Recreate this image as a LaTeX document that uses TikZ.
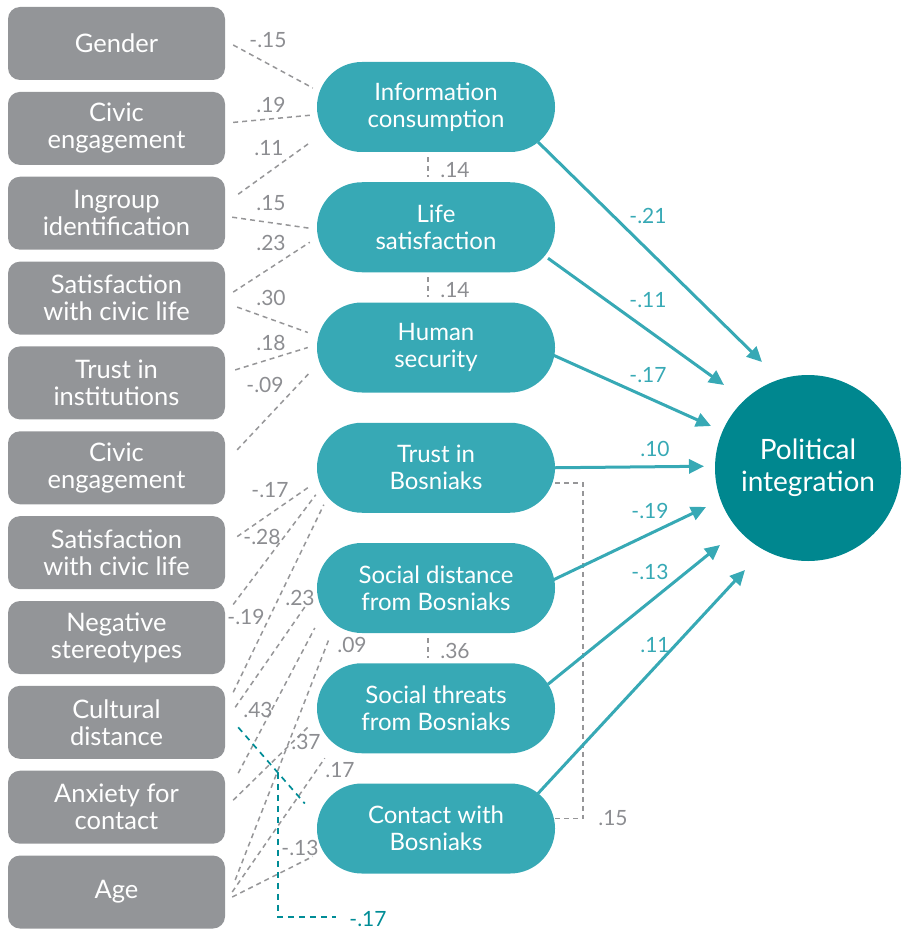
\documentclass[tikz,border=0pt]{standalone}
\usepackage{fontspec}
\setmainfont{Lato}
\usetikzlibrary{calc,arrows.meta}
\definecolor{boxgray}{RGB}{147,149,152}
\definecolor{tealbox}{RGB}{55,169,181}
\definecolor{tealdark}{RGB}{0,135,143}
\definecolor{dashgray}{RGB}{150,150,152}
\definecolor{numgray}{RGB}{140,141,145}
\definecolor{tealline}{RGB}{0,140,150}
\begin{document}
\begin{tikzpicture}[x=1pt,y=-1pt,
  gbox/.style={rectangle, rounded corners=12pt, fill=boxgray, text=white,
    minimum width=217pt, minimum height=73pt, align=center, inner sep=0pt,
    font=\fontsize{25.5}{27}\selectfont},
  tbox/.style={rectangle, rounded corners=44.9pt, fill=tealbox, text=white,
    minimum width=238pt, minimum height=90pt, align=center, inner sep=0pt,
    font=\fontsize{24}{27}\selectfont},
  gdash/.style={draw=dashgray, line width=1.5pt, dash pattern=on 5pt off 4pt},
  tdash/.style={draw=tealline, line width=1.7pt, dash pattern=on 6pt off 5pt},
  tarrow/.style={draw=tealbox, line width=3pt, -{Triangle[length=15pt,width=14pt]}},
  num/.style={text=numgray, font=\fontsize{21}{21}\selectfont, inner sep=0pt},
  tnum/.style={num, text=tealbox}]
\useasboundingbox (0,0) rectangle (902,936);

% left gray boxes
\node[gbox] (g1) at (116.5,43.5) {Gender};
\node[gbox] (g2) at (116.5,128.4) {Civic\\engagement};
\node[gbox] (g3) at (116.5,213.2) {Ingroup\\identification};
\node[gbox] (g4) at (116.5,298.1) {Satisfaction\\with civic life};
\node[gbox] (g5) at (116.5,382.9) {Trust in\\institutions};
\node[gbox] (g6) at (116.5,467.8) {Civic\\engagement};
\node[gbox] (g7) at (116.5,552.6) {Satisfaction\\with civic life};
\node[gbox] (g8) at (116.5,637.5) {Negative\\stereotypes};
\node[gbox] (g9) at (116.5,722.3) {Cultural\\distance};
\node[gbox] (g10) at (116.5,807.2) {Anxiety for\\contact};
\node[gbox] (g11) at (116.5,892) {Age};

% teal boxes
\node[tbox] (t1) at (436,107) {Information\\consumption};
\node[tbox] (t2) at (436,227.25) {Life\\satisfaction};
\node[tbox] (t3) at (436,347.5) {Human\\security};
\node[tbox] (t4) at (436,467.75) {Trust in\\Bosniaks};
\node[tbox] (t5) at (436,588) {Social distance\\from Bosniaks};
\node[tbox] (t6) at (436,708.25) {Social threats\\from Bosniaks};
\node[tbox] (t7) at (436,828.5) {Contact with\\Bosniaks};

% outcome
\node[circle, fill=tealdark, text=white, minimum size=186pt, inner sep=0pt,
  align=center, font=\fontsize{28}{32}\selectfont] (pi) at (808,468) {Political\\integration};

% dashed paths left -> middle
\draw[gdash] ($(g1.east)+(8,1.5)$) -- ($(t1.west)+(-4,-19)$);
\draw[gdash] ($(g2.east)+(8,-6)$) -- ($(t1.west)+(-4,8)$);
\draw[gdash] ($(g3.east)+(13,-19)$) -- ($(t1.west)+(-6,35)$);
\draw[gdash] ($(g3.east)+(7,4)$) -- ($(t2.west)+(-7,1)$);
\draw[gdash] ($(g4.east)+(8,-6)$) -- ($(t2.west)+(-7,15)$);
\draw[gdash] ($(g4.east)+(12,9)$) -- ($(t3.west)+(-9,-15)$);
\draw[gdash] ($(g5.east)+(10,-13)$) -- ($(t3.west)+(-9,0)$);
\draw[gdash] ($(g6.east)+(12,-18)$) -- ($(t3.west)+(-7,25)$);
\draw[gdash] ($(g7.east)+(12,-16)$) -- ($(t4.west)+(-9,20)$);
\draw[gdash] ($(g8.east)+(8,-33)$) -- ($(t4.west)+(-1,27)$);
\draw[gdash] ($(g9.east)+(8,-30)$) -- ($(t4.west)+(7,37)$);
\draw[gdash] ($(g9.east)+(10,-15)$) -- ($(t5.west)+(-12,19)$);
\draw[gdash] ($(g10.east)+(13,-34)$) -- ($(t5.west)+(-2,40)$);
\draw[gdash] ($(g11.east)+(10,-12)$) -- ($(t5.west)+(13,49)$);
\draw[gdash] ($(g10.east)+(8,-7)$) -- ($(t6.west)+(-7,17)$);
\draw[gdash] ($(g11.east)+(7,0)$) -- ($(t6.west)+(8,50)$);
\draw[gdash] ($(g11.east)+(7,5)$) -- ($(t7.west)+(-4,28)$);

% interaction (teal dashed)
\coordinate (ia) at ($(g9.east)+(13,5)$);
\coordinate (ib) at ($(t7.west)+(-12,-25)$);
\coordinate (im) at ($(ia)!0.597!(ib)$);
\coordinate (ie) at (336,917);
\draw[tdash] (ia) -- (ib);
\draw[tdash] (im) |- (ie);
\node[tnum, text=tealline] (li) at (368,919) {-.17};

% middle covariances
\draw[gdash] ($(t1.south)+(-8,5)$) -- ($(t2.north)+(-8,-5)$);
\draw[gdash] ($(t2.south)+(-8,5)$) -- ($(t3.north)+(-8,-5)$);
\draw[gdash] ($(t5.south)+(-8,5)$) -- ($(t6.north)+(-8,-5)$);
\draw[gdash] ($(t4.east)+(0,15)$) -- ++(28,0) |- ($(t7.east)+(0,-10)$);

% teal arrows
\draw[tarrow] ($(t1.center)+(102,35)$) -- ($(pi.center)+(-46,-106)$);
\draw[tarrow] ($(t2.center)+(112,31)$) -- ($(pi.center)+(-84,-83)$);
\draw[tarrow] ($(t3.center)+(117,7.5)$) -- ($(pi.center)+(-97,-42)$);
\draw[tarrow] (t4.east) -- ($(pi.center)+(-104,-1.75)$);
\draw[tarrow] ($(t5.center)+(117,-8)$) -- ($(pi.center)+(-102,39)$);
\draw[tarrow] ($(t6.center)+(112,-24)$) -- ($(pi.center)+(-88,77)$);
\draw[tarrow] ($(t7.center)+(102,-35)$) -- ($(pi.center)+(-63,102)$);

% gray labels
\node[num] (n1) at (268,40) {-.15};
\node[num] (n2) at (271,105) {.19};
\node[num] (n3) at (269,148) {.11};
\node[num] (n4) at (271,203) {.15};
\node[num] (n5) at (271,243) {.23};
\node[num] (n6) at (271,298) {.30};
\node[num] (n7) at (271,343) {.18};
\node[num] (n8) at (265,385) {-.09};
\node[num] (n9) at (270,490) {-.17};
\node[num] (n10) at (262,537) {-.28};
\node[num] (n11) at (246,617) {-.19};
\node[num] (n12) at (300,598) {.23};
\node[num] (n13) at (352,645) {.09};
\node[num] (n14) at (258,710) {.43};
\node[num] (n15) at (306,742) {.37};
\node[num] (n16) at (340,770) {.17};
\node[num] (n17) at (300,848) {-.13};
\node[num] (n18) at (455,170) {.14};
\node[num] (n19) at (455,290) {.14};
\node[num] (n20) at (455,651) {.36};
\node[num] (n21) at (613,818) {.15};

% teal labels
\node[tnum] (a1) at (648,216) {-.21};
\node[tnum] (a2) at (648,300) {-.11};
\node[tnum] (a3) at (648,375) {-.17};
\node[tnum] (a4) at (655,449) {.10};
\node[tnum] (a5) at (650,511) {-.19};
\node[tnum] (a6) at (650,572) {-.13};
\node[tnum] (a7) at (655,645) {.11};
\end{tikzpicture}
\end{document}
